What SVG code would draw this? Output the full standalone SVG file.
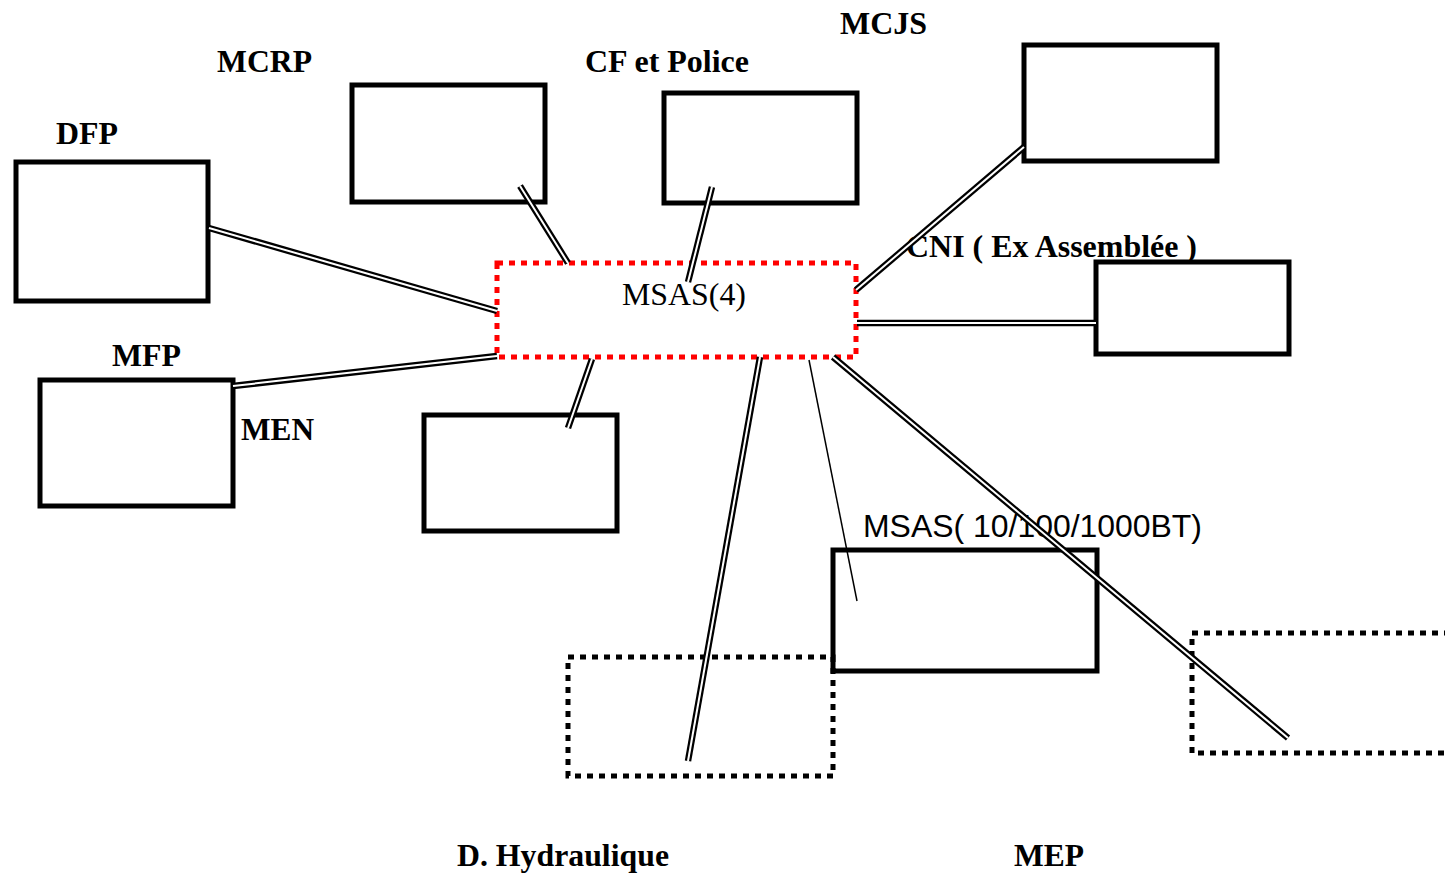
<svg xmlns="http://www.w3.org/2000/svg" width="1445" height="876" viewBox="0 0 1445 876">
<style>
.box{fill:none;stroke:#000;stroke-width:5}
.dot{fill:none;stroke:#000;stroke-width:5;stroke-dasharray:6 6}
.red{fill:none;stroke:#f00;stroke-width:5;stroke-dasharray:6 6}
.lbl{font-family:"Liberation Serif",serif;font-weight:bold;font-size:31px;fill:#000}
.reg{font-family:"Liberation Serif",serif;font-size:31px;fill:#000}
.sans{font-family:"Liberation Sans",sans-serif;font-size:31px;fill:#000}
.dbl-o{stroke:#000;stroke-width:6.5;fill:none}
.dbl-i{stroke:#fff;stroke-width:2;fill:none}
.thin{stroke:#000;stroke-width:1.5;fill:none}
</style>
<rect width="1445" height="876" fill="#fff"/>
<g id="dfp"><rect class="box" x="16" y="162" width="192" height="139"/><text class="lbl" x="56" y="144" textLength="62" lengthAdjust="spacingAndGlyphs">DFP</text></g>
<g id="mcrp"><rect class="box" x="352" y="85" width="193" height="117"/><text class="lbl" x="217" y="72" textLength="95" lengthAdjust="spacingAndGlyphs">MCRP</text></g>
<g id="cfpolice"><rect class="box" x="664" y="93" width="193" height="110"/><text class="lbl" x="585" y="72" textLength="164" lengthAdjust="spacingAndGlyphs">CF et Police</text></g>
<g id="mcjs"><rect class="box" x="1024" y="45" width="193" height="116"/><text class="lbl" x="840" y="34" textLength="87" lengthAdjust="spacingAndGlyphs">MCJS</text></g>
<g id="cni"><rect class="box" x="1096" y="262" width="193" height="92"/><text class="lbl" x="906" y="257" textLength="291" lengthAdjust="spacingAndGlyphs">CNI ( Ex Assemblée )</text></g>
<g id="mfp"><rect class="box" x="40" y="380" width="193" height="126"/><text class="lbl" x="112" y="366" textLength="69" lengthAdjust="spacingAndGlyphs">MFP</text></g>
<g id="men"><rect class="box" x="424" y="415" width="193" height="116"/><text class="lbl" x="241" y="440" textLength="73" lengthAdjust="spacingAndGlyphs">MEN</text></g>
<g id="msas4"><rect class="red" x="497" y="263" width="359" height="94"/><text class="reg" x="622" y="305" textLength="124" lengthAdjust="spacingAndGlyphs">MSAS(4)</text></g>
<g id="msasbt"><rect class="box" x="833" y="550" width="264" height="121"/><text class="sans" x="863" y="537" textLength="339" lengthAdjust="spacingAndGlyphs">MSAS( 10/100/1000BT)</text></g>
<g id="dhydraulique"><rect class="dot" x="568" y="657" width="265" height="119"/><text class="lbl" x="457" y="866" textLength="212" lengthAdjust="spacingAndGlyphs">D. Hydraulique</text></g>
<g id="mep"><rect class="dot" x="1192" y="633" width="270" height="120"/><text class="lbl" x="1014" y="866" textLength="70" lengthAdjust="spacingAndGlyphs">MEP</text></g>
<g id="connectors">
<g class="dbl-o">
<line x1="209" y1="228" x2="497" y2="311"/>
<line x1="233" y1="386" x2="497" y2="356"/>
<line x1="520" y1="186" x2="568" y2="263"/>
<line x1="712" y1="187" x2="688" y2="282"/>
<line x1="1024" y1="147" x2="856" y2="290"/>
<line x1="857" y1="323" x2="1096" y2="323"/>
<line x1="592" y1="359" x2="568" y2="428"/>
<line x1="760" y1="357" x2="688" y2="761"/>
<line x1="833" y1="357" x2="1288" y2="738"/>
</g>
<g class="dbl-i">
<line x1="209" y1="228" x2="497" y2="311"/>
<line x1="233" y1="386" x2="497" y2="356"/>
<line x1="520" y1="186" x2="568" y2="263"/>
<line x1="712" y1="187" x2="688" y2="282"/>
<line x1="1024" y1="147" x2="856" y2="290"/>
<line x1="857" y1="323" x2="1096" y2="323"/>
<line x1="592" y1="359" x2="568" y2="428"/>
<line x1="760" y1="357" x2="688" y2="761"/>
<line x1="833" y1="357" x2="1288" y2="738"/>
</g>
<line class="thin" x1="809" y1="360" x2="857" y2="601"/>
</g>
</svg>
